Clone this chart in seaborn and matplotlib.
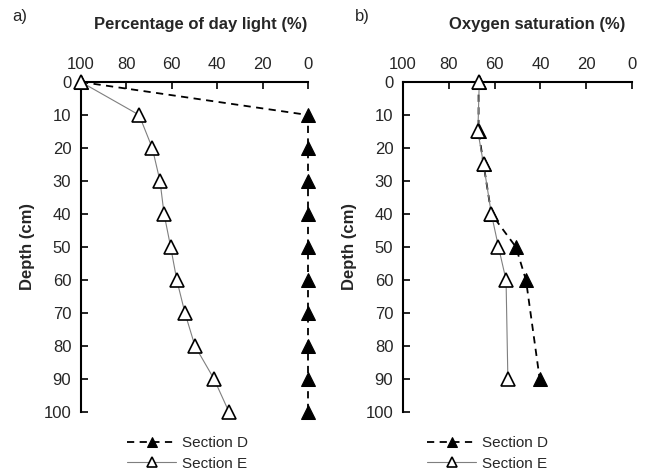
import matplotlib
matplotlib.use("Agg")
import matplotlib.pyplot as plt
import seaborn as sns
import pandas as pd

sns.set_theme(style="white")
plt.rcParams['font.family'] = ['Liberation Sans', 'DejaVu Sans']

# Panel a: percentage of day light
light_depth_D = [0, 10, 20, 30, 40, 50, 60, 70, 80, 90, 100]
light_D = [100, 0, 0, 0, 0, 0, 0, 0, 0, 0, 0]
light_depth_E = [0, 10, 20, 30, 40, 50, 60, 70, 80, 90, 100]
light_E = [100, 74.4, 68.6, 65.2, 63.4, 60.5, 57.8, 54.2, 49.8, 41.4, 34.8]

# Panel b: oxygen saturation
oxy_depth_D = [0, 15, 25, 40, 50, 60, 90]
oxy_D = [67.0, 67.0, 64.8, 61.4, 50.7, 46.3, 40.3]
oxy_depth_E = [0, 15, 25, 40, 50, 60, 90]
oxy_E = [66.7, 67.3, 64.8, 61.4, 58.3, 55.0, 54.2]

x_ticks = [100, 80, 60, 40, 20, 0]
y_ticks = [0, 10, 20, 30, 40, 50, 60, 70, 80, 90, 100]
series_labels = ["Section D", "Section E"]

fig = plt.figure(figsize=(6.48, 4.75), dpi=100)
ax1 = fig.add_axes([81/648, 1-412/475, 227/648, 330/475])
ax2 = fig.add_axes([403/648, 1-412/475, 229/648, 330/475])

FS = 12
LFS = 11

def draw(ax, dD, vD, dE, vE, leg_x):
    dfD = pd.DataFrame({"v": vD, "d": dD})
    dfE = pd.DataFrame({"v": vE, "d": dE})
    sns.lineplot(data=dfE, x="v", y="d", orient="y", ax=ax, color="#7f7f7f",
                 linewidth=0.8, marker="^", markersize=10, markerfacecolor="white",
                 markeredgecolor="black", markeredgewidth=1.2, label=series_labels[1],
                 zorder=3, clip_on=False)
    sns.lineplot(data=dfD, x="v", y="d", orient="y", ax=ax, color="black",
                 linewidth=1.3, linestyle=(0, (4, 3)), marker="^", markersize=10,
                 markerfacecolor="black", markeredgecolor="black",
                 label=series_labels[0], zorder=2, clip_on=False)
    ax.set_xlim(100, 0)
    ax.set_ylim(100, 0)
    ax.xaxis.tick_top()
    ax.set_xticks(x_ticks)
    ax.set_yticks(y_ticks)
    ax.set_xticklabels([str(t) for t in x_ticks], fontsize=FS)
    ax.set_yticklabels([str(t) for t in y_ticks], fontsize=FS)
    ax.tick_params(axis="both", direction="in", length=5, width=1.2, color="black",
                   top=True, bottom=False, left=True, right=False)
    ax.tick_params(axis="x", pad=7)
    ax.tick_params(axis="y", pad=7)
    for s in ["right", "bottom"]:
        ax.spines[s].set_visible(False)
    for s in ["top", "left"]:
        ax.spines[s].set_color("black")
        ax.spines[s].set_linewidth(1.5)
    ax.set_xlabel("")
    ax.set_ylabel("Depth (cm)", fontsize=FS, fontweight="bold", labelpad=6)
    ax.grid(False)
    handles, labels = ax.get_legend_handles_labels()
    order = [labels.index(series_labels[0]), labels.index(series_labels[1])]
    ax.legend([handles[i] for i in order], [labels[i] for i in order],
              loc="upper center", bbox_to_anchor=(leg_x, -0.04), frameon=False,
              fontsize=LFS, handlelength=3.2, labelspacing=0.45, handletextpad=0.4,
              borderpad=0.2)
    for t in ax.get_legend().legend_handles:
        t.set_markersize(7)
    ax.patch.set_alpha(0)
    return ax

draw(ax1, light_depth_D, light_D, light_depth_E, light_E, 0.47)
draw(ax2, oxy_depth_D, oxy_D, oxy_depth_E, oxy_E, 0.37)

fig.text(201/648, 1-25/475, "Percentage of day light (%)", ha="center", va="center",
         fontsize=FS, fontweight="bold")
fig.text(537/648, 1-25/475, "Oxygen saturation (%)", ha="center", va="center",
         fontsize=FS, fontweight="bold")
fig.text(12/648, 1-17/475, "a)", ha="left", va="center", fontsize=FS)
fig.text(355/648, 1-17/475, "b)", ha="left", va="center", fontsize=FS)

fig.savefig("out.png", dpi=100, facecolor="white")
